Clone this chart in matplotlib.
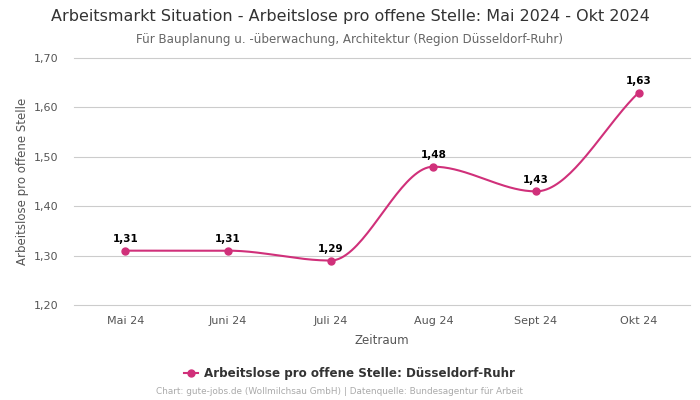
import numpy as np
import matplotlib
matplotlib.use('Agg')
import matplotlib.pyplot as plt

months = ['Mai 24', 'Juni 24', 'Juli 24', 'Aug 24', 'Sept 24', 'Okt 24']
values = [1.31, 1.31, 1.29, 1.48, 1.43, 1.63]
labels = ['1,31', '1,31', '1,29', '1,48', '1,43', '1,63']
yticks = [1.20, 1.30, 1.40, 1.50, 1.60, 1.70]

color = '#d0307a'


def monotone_curve(x, y, n=40):
    # Fritsch-Carlson monotone cubic, for the smooth line between points
    x = np.asarray(x, float)
    y = np.asarray(y, float)
    h = np.diff(x)
    d = np.diff(y) / h
    m = np.zeros_like(y)
    m[0], m[-1] = d[0], d[-1]
    for i in range(1, len(y) - 1):
        if d[i - 1] * d[i] <= 0:
            m[i] = 0
        else:
            m[i] = 2 / (1 / d[i - 1] + 1 / d[i])
    xs, ys = [], []
    for i in range(len(h)):
        t = np.linspace(0, 1, n)
        h00 = 2 * t**3 - 3 * t**2 + 1
        h10 = t**3 - 2 * t**2 + t
        h01 = -2 * t**3 + 3 * t**2
        h11 = t**3 - t**2
        xs.append(x[i] + t * h[i])
        ys.append(h00 * y[i] + h10 * h[i] * m[i] + h01 * y[i + 1] + h11 * h[i] * m[i + 1])
    return np.concatenate(xs), np.concatenate(ys)


fig = plt.figure(figsize=(7, 4), dpi=100)
ax = fig.add_axes([74 / 700, 1 - 305 / 400, 616 / 700, 247 / 400])

x = np.arange(len(months))
cx, cy = monotone_curve(x, values)
ax.plot(cx, cy, color=color, lw=1.5, zorder=3)
ax.plot(x, values, 'o', color=color, ms=5, zorder=4)

for xi, v, lab in zip(x, values, labels):
    ax.annotate(lab, (xi, v), xytext=(0, 4.5), textcoords='offset points',
                ha='center', va='bottom', fontsize=7.5, fontweight='bold', color='black')

ax.set_xlim(-0.5, len(months) - 0.5)
ax.set_ylim(1.20, 1.70)
ax.set_yticks(yticks)
ax.set_yticklabels([f'{t:.2f}'.replace('.', ',') for t in yticks])
ax.set_xticks(x)
ax.set_xticklabels(months)
ax.tick_params(length=0, labelsize=8, labelcolor='#555555', pad=8)
ax.tick_params(axis='y', pad=11)
for t in yticks:
    ax.axhline(t, color='#cccccc', lw=0.8, zorder=0, clip_on=False)
for s in ax.spines.values():
    s.set_visible(False)

ax.set_xlabel('Zeitraum', fontsize=8.5, color='#555555', labelpad=6)
ax.set_ylabel('Arbeitslose pro offene Stelle', fontsize=8.5, color='#555555', labelpad=4)

fig.text(0.5, 1 - 17 / 400, 'Arbeitsmarkt Situation - Arbeitslose pro offene Stelle: Mai 2024 - Okt 2024',
         ha='center', va='center', fontsize=11.5, color='#333333')
fig.text(0.5, 1 - 39 / 400, 'Für Bauplanung u. -überwachung, Architektur (Region Düsseldorf-Ruhr)',
         ha='center', va='center', fontsize=8.6, color='#666666')

# legend
leg_y = 1 - 373 / 400
fig.lines.append(plt.Line2D([184 / 700, 191 / 700, 198 / 700], [leg_y] * 3, transform=fig.transFigure,
                            color=color, lw=1.5, marker='o', ms=5, markevery=[1]))
fig.text(204 / 700, leg_y, 'Arbeitslose pro offene Stelle: Düsseldorf-Ruhr',
         ha='left', va='center', fontsize=8.6, fontweight='bold', color='#333333')

fig.text(340 / 700, 1 - 392 / 400, 'Chart: gute-jobs.de (Wollmilchsau GmbH) | Datenquelle: Bundesagentur für Arbeit',
         ha='center', va='center', fontsize=6.4, color='#aaaaaa')

fig.savefig('out.png', dpi=100)
